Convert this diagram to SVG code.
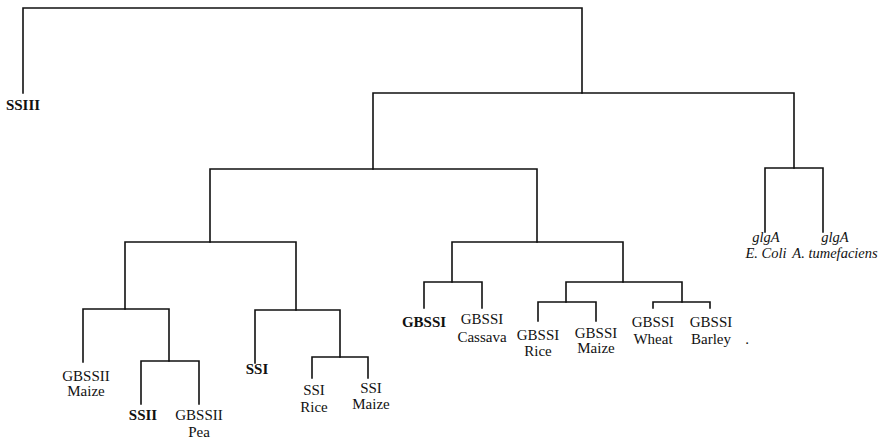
<svg xmlns="http://www.w3.org/2000/svg" width="878" height="443" viewBox="0 0 878 443">
<style>
.c{fill:none;stroke:#111;stroke-width:1.6;stroke-linecap:square;stroke-linejoin:miter}
text{font-family:"Liberation Serif","Times New Roman",serif;font-size:15px;fill:#111;text-anchor:middle}
.b{font-weight:bold}
.i{font-style:italic;font-size:14.5px}
</style>
<rect width="878" height="443" fill="#fff"/>
<g id="connectors">
<path class="c" d="M23,93V8H582V93"/>
<path class="c" d="M373,169V93H794V168"/>
<path class="c" d="M210,242V169H537V242"/>
<path class="c" d="M125,309V242H296V310"/>
<path class="c" d="M83,362V309H169V361"/>
<path class="c" d="M141,404V361H199V404"/>
<path class="c" d="M255,363V310H340V357"/>
<path class="c" d="M312,378V357H368V378"/>
<path class="c" d="M452,282V242H623V282"/>
<path class="c" d="M424,308V282H482V308"/>
<path class="c" d="M566,302V282H682V302"/>
<path class="c" d="M538,321V302H596V321"/>
<path class="c" d="M653,308V302H710V308"/>
<path class="c" d="M765,232V168H823V232"/>
</g>
<g id="ssiii"><text class="b" x="23" y="110">SSIII</text></g>
<g id="gbssii-maize"><text x="86" y="381">GBSSII</text><text x="86" y="396">Maize</text></g>
<g id="ssii"><text class="b" x="143" y="420">SSII</text></g>
<g id="gbssii-pea"><text x="199" y="420">GBSSII</text><text x="199" y="437">Pea</text></g>
<g id="ssi"><text class="b" x="257" y="374">SSI</text></g>
<g id="ssi-rice"><text x="314" y="395">SSI</text><text x="314" y="412">Rice</text></g>
<g id="ssi-maize"><text x="371" y="393">SSI</text><text x="371" y="409">Maize</text></g>
<g id="gbssi"><text class="b" x="424" y="327">GBSSI</text></g>
<g id="gbssi-cassava"><text x="482" y="324">GBSSI</text><text x="482" y="342">Cassava</text></g>
<g id="gbssi-rice"><text x="538" y="340">GBSSI</text><text x="538" y="356">Rice</text></g>
<g id="gbssi-maize"><text x="596" y="338">GBSSI</text><text x="596" y="353">Maize</text></g>
<g id="gbssi-wheat"><text x="653" y="327">GBSSI</text><text x="653" y="344">Wheat</text></g>
<g id="gbssi-barley"><text x="711" y="327">GBSSI</text><text x="711" y="344">Barley</text></g>
<g id="dot"><text x="747" y="344">.</text></g>
<g id="glga-ecoli"><text class="i" x="766" y="242">glgA</text><text class="i" x="766" y="258">E. Coli</text></g>
<g id="glga-atum"><text class="i" x="835" y="242">glgA</text><text class="i" x="835" y="258">A. tumefaciens</text></g>
</svg>
